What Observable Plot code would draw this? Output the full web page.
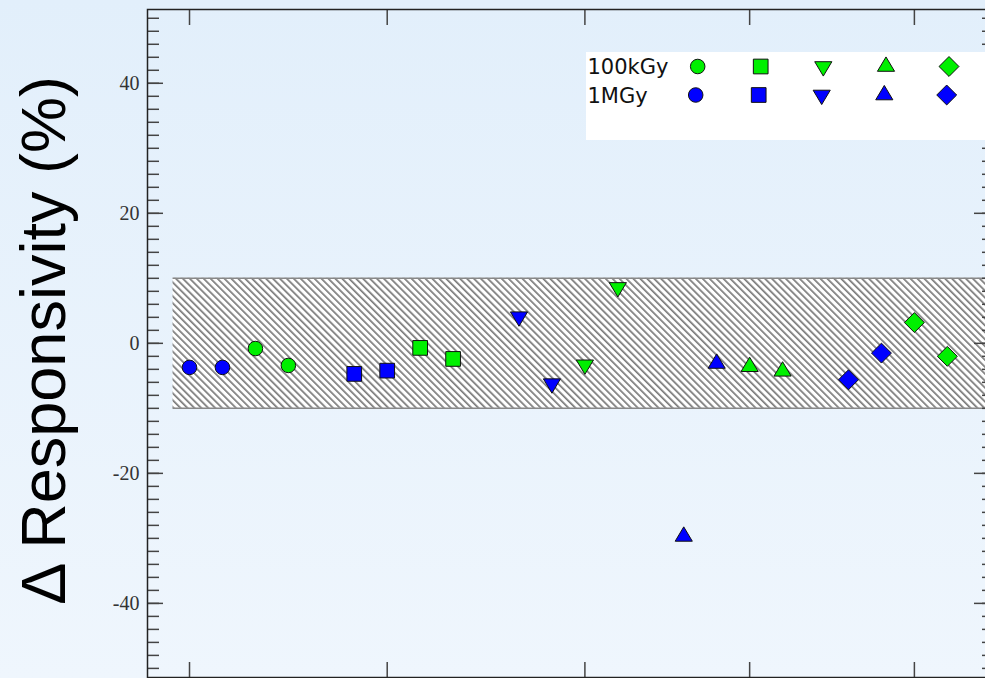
<!DOCTYPE html>
<html><head><meta charset="utf-8">
<script src="https://cdn.jsdelivr.net/npm/d3@7"></script>
<script src="https://cdn.jsdelivr.net/npm/@observablehq/plot@0.6"></script>
<style>
html,body{margin:0;padding:0;width:985px;height:678px;overflow:hidden;background:linear-gradient(#e2effb,#eff6fd);}
#wrap{position:relative;width:985px;height:678px;overflow:hidden;}
#wrap svg{position:absolute;left:0;top:0;}
</style></head><body><div id="wrap"></div>
<script>
// ---- data ----
const positions = [0,1,2,3, 5,6,7,8, 10,11,12,13, 15,16,17,18, 20,21,22,23];
const shapes = ["circle","circle","circle","circle",
                "square","square","square","square",
                "down","down","down","down",
                "up","up","up","up",
                "diamond","diamond","diamond","diamond"];
const doses = ["1MGy","1MGy","100kGy","100kGy",
               "1MGy","1MGy","100kGy","100kGy",
               "1MGy","1MGy","100kGy","100kGy",
               "1MGy","1MGy","100kGy","100kGy",
               "1MGy","1MGy","100kGy","100kGy"];
const values = [-3.7,-3.7,-0.8,-3.4,
                -4.7,-4.2,-0.7,-2.4,
                 4.1,-6.2,-3.3, 8.6,
               -29.7,-3.1,-3.6,-4.3,
                -5.6,-1.5, 3.2,-2.0];
const legendDoses = ["100kGy","1MGy"];
const legendShapes = ["circle","square","down","up","diamond"];
const yMajor = [-40,-20,0,20,40];
const yMinor = d3.range(-50, 51, 2);
const xTicks = [0,6,12,17,22];
const band = [-10, 10];
const bandStart = -0.5;
const xDomain = [-1.275, 24.31];
const yDomain = [-51.4, 51.35];
const colors = {"100kGy": "#00f000", "1MGy": "#0000ff"};

// ---- symbols (sized from r) ----
const R = 7.5;
const symbols = {
  circle: {draw(c, size){ const r = Math.sqrt(size/Math.PI)*0.97; c.moveTo(r,0); c.arc(0,0,r,0,2*Math.PI); }},
  square: {draw(c, size){ const r = Math.sqrt(size/Math.PI)*0.98; c.rect(-r,-r,2*r,2*r); }},
  up: {draw(c, size){ const r = Math.sqrt(size/Math.PI); const w = r*8/7, h = r*13.4/7;
        c.moveTo(0,-2*h/3); c.lineTo(w,h/3); c.lineTo(-w,h/3); c.closePath(); }},
  down: {draw(c, size){ const r = Math.sqrt(size/Math.PI); const w = r*8/7, h = r*13.4/7;
        c.moveTo(0,2*h/3); c.lineTo(w,-h/3); c.lineTo(-w,-h/3); c.closePath(); }},
  diamond: {draw(c, size){ const r = Math.sqrt(size/Math.PI); const d = r*9.3/7;
        c.moveTo(0,-d); c.lineTo(d,0); c.lineTo(0,d); c.lineTo(-d,0); c.closePath(); }}
};

const data = positions.map((p,i) => ({x: p, y: values[i], shape: shapes[i], dose: doses[i]}));

const dotMarks = legendShapes.map(s => Plot.dot(data.filter(d => d.shape === s), {
  x: "x", y: "y", r: R, symbol: symbols[s],
  fill: d => colors[d.dose], stroke: "#111", strokeWidth: 1
}));

const tickStyle = {stroke: "#444", strokeWidth: 1.5, tickFormat: () => "", label: null};

const plot = Plot.plot({
  width: 985, height: 678,
  marginLeft: 147, marginRight: -5, marginTop: 9, marginBottom: 1,
  style: {background: "transparent", overflow: "visible"},
  x: {domain: xDomain, axis: null},
  y: {domain: yDomain, axis: null},
  marks: [
    Plot.rect([band], {x1: bandStart, x2: xDomain[1], y1: d => d[0], y2: d => d[1], fill: "url(#hatch)"}),
    Plot.ruleY(band, {x1: bandStart, x2: xDomain[1], stroke: "#888", strokeWidth: 1.5}),
    Plot.axisY(yMinor, {anchor: "left", tickSize: -12, ...tickStyle}),
    Plot.axisY(yMajor, {anchor: "left", tickSize: -16, ...tickStyle}),
    Plot.axisY(yMinor, {anchor: "right", tickSize: -9, ...tickStyle}),
    Plot.axisY(yMajor, {anchor: "right", tickSize: -17, ...tickStyle}),
    Plot.axisX(xTicks, {anchor: "top", tickSize: -15, ...tickStyle}),
    Plot.axisX(xTicks, {anchor: "bottom", tickSize: -15, ...tickStyle}),
    Plot.axisY(yMajor, {anchor: "left", tickSize: 0, tickPadding: 8, fontSize: 20,
      fontFamily: "Liberation Serif, Times New Roman, serif", fill: "#333",
      tickFormat: d => String(d), label: null}),
    Plot.frame({stroke: "#222", strokeWidth: 1.5}),
    Plot.text(["Δ Responsivity (%)"], {frameAnchor: "left", rotate: -90, dx: -103, dy: -3,
      fontSize: 63, fontFamily: "Liberation Sans, Arial, sans-serif", fill: "#000",
      textAnchor: "middle", lineAnchor: "middle"}),
    ...dotMarks
  ]
});

// hatch pattern
const P = 4.9;
const defs = d3.select(plot).insert("defs", ":first-child");
const pat = defs.append("pattern").attr("id", "hatch").attr("patternUnits", "userSpaceOnUse")
  .attr("width", P).attr("height", 10).attr("patternTransform", "rotate(-45)");
pat.append("rect").attr("width", P).attr("height", 10).attr("fill", "#fff");
pat.append("rect").attr("width", 1.7).attr("height", 10).attr("fill", "#7a7a7a");

document.getElementById("wrap").appendChild(plot);

// ---- legend ----
const lg = d3.select("#wrap").append("svg")
  .attr("width", 404).attr("height", 88)
  .style("left", "586px").style("top", "52px");
lg.append("rect").attr("width", 404).attr("height", 88).attr("fill", "#fff");
const rowY = [14.5, 43];
const rowX = [[111.7,174.7,237.3,300,363],[109.7,172.7,235.7,298.3,360.7]];
legendDoses.forEach((dose, i) => {
  lg.append("text").attr("x", 1.5).attr("y", rowY[i] + 7.5)
    .attr("font-family", "DejaVu Sans, Verdana, sans-serif").attr("font-size", 21)
    .attr("fill", "#111").text(dose);
  legendShapes.forEach((s, j) => {
    const p = d3.path(); symbols[s].draw(p, Math.PI * R * R);
    lg.append("path").attr("d", p.toString())
      .attr("transform", `translate(${rowX[i][j]},${rowY[i]})`)
      .attr("fill", colors[dose]).attr("stroke", "#111").attr("stroke-width", 1);
  });
});
</script></body></html>
